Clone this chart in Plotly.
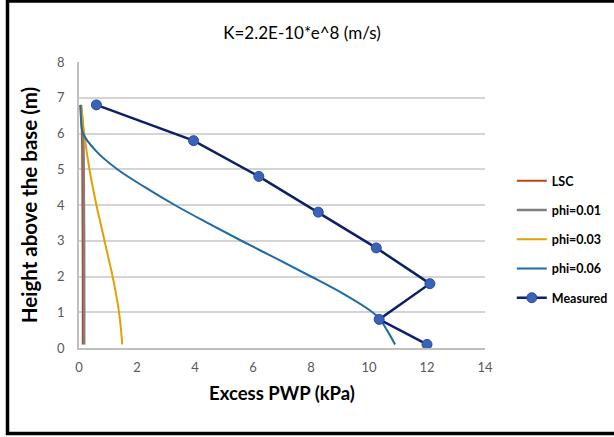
import plotly.graph_objects as go

# ---- data ----
lsc_x = [0.05, 0.10, 0.12, 0.13, 0.13]
lsc_y = [6.8, 6.0, 4.0, 2.0, 0.1]

phi01_x = [0.06, 0.14, 0.17, 0.18, 0.18]
phi01_y = [6.8, 6.0, 4.0, 2.0, 0.1]

phi03_x = [0.08, 0.18, 0.36, 0.60, 0.74, 0.88, 1.02, 1.16, 1.28, 1.38, 1.45, 1.49]
phi03_y = [6.8, 6.0, 5.0, 4.0, 3.5, 3.0, 2.5, 2.0, 1.5, 1.0, 0.5, 0.1]

phi06_x = [0.05, 0.07, 0.14, 0.60, 1.32, 2.27, 3.30, 4.43, 5.60, 6.81, 8.00, 9.15, 10.12, 10.38, 10.62, 10.9]
phi06_y = [6.8, 6.4, 6.0, 5.5, 5.0, 4.5, 4.0, 3.5, 3.0, 2.5, 2.0, 1.5, 1.0, 0.8, 0.5, 0.1]

meas_x = [0.6, 3.95, 6.2, 8.25, 10.25, 12.1, 10.35, 12.0]
meas_y = [6.8, 5.8, 4.8, 3.8, 2.8, 1.8, 0.8, 0.1]

x_ticks = [0, 2, 4, 6, 8, 10, 12, 14]
y_ticks = [0, 1, 2, 3, 4, 5, 6, 7, 8]

title_text = "K=2.2E-10*e^8 (m/s)"
x_title = "Excess PWP (kPa)"
y_title = "Height above the base (m)"

FONT = "Lato"

fig = go.Figure()
fig.add_trace(go.Scatter(x=lsc_x, y=lsc_y, mode="lines", name="LSC",
                         line=dict(color="#C0441A", width=2, shape="spline"), legendgroup="a"))
fig.add_trace(go.Scatter(x=phi01_x, y=phi01_y, mode="lines", name="phi=0.01",
                         line=dict(color="#7F7F7F", width=2.5, shape="spline"), legendgroup="b"))
fig.add_trace(go.Scatter(x=phi03_x, y=phi03_y, mode="lines", name="phi=0.03",
                         line=dict(color="#E5A000", width=2, shape="spline"), legendgroup="c"))
fig.add_trace(go.Scatter(x=phi06_x, y=phi06_y, mode="lines", name="phi=0.06",
                         line=dict(color="#1F6BA5", width=2, shape="spline"), legendgroup="d"))
fig.add_trace(go.Scatter(x=meas_x, y=meas_y, mode="lines+markers", name="Measured",
                         line=dict(color="#0D1F66", width=2.5),
                         marker=dict(size=10, color="#3A62B8", line=dict(color="#2A4A98", width=1)),
                         legendgroup="e"))

fig.update_layout(
    width=614, height=437,
    margin=dict(l=79, r=129, t=62, b=89, autoexpand=False),
    paper_bgcolor="white", plot_bgcolor="white",
    font=dict(family=FONT, size=13, color="#595959"),
    title=dict(text=title_text, x=302/614, xref="container", xanchor="center",
               y=1 - 33/437, yref="container", yanchor="middle",
               font=dict(family=FONT, size=17, color="#000000")),
    showlegend=True,
    legend=dict(x=1.066, xanchor="left", y=0.636, yanchor="top",
                font=dict(family=FONT, size=12.5, color="#000000", weight="bold"),
                tracegroupgap=10, bgcolor="rgba(0,0,0,0)", itemwidth=30),
    xaxis=dict(range=[0, 14], tickvals=x_ticks, showgrid=False, zeroline=False,
               showline=True, linecolor="#BFBFBF", linewidth=1.5,
               ticks="", ticklabelstandoff=7,
               tickfont=dict(family=FONT, size=13, color="#595959"),
               title=dict(text=x_title, standoff=13,
                          font=dict(family=FONT, size=18.5, color="#000000", weight="bold"))),
    yaxis=dict(range=[0, 8], tickvals=y_ticks, showgrid=True, gridcolor="#D4D4D4", gridwidth=1.5,
               zeroline=False, showline=True, linecolor="#BFBFBF", linewidth=1.5,
               ticks="", ticklabelstandoff=10,
               tickfont=dict(family=FONT, size=13, color="#595959"),
               title=dict(text=y_title, standoff=14,
                          font=dict(family=FONT, size=20.5, color="#000000", weight="bold"))),
)

# outer frame of the chart
fig.add_shape(type="rect", xref="paper", yref="paper",
              x0=(7.5 - 79) / 406, x1=(618 - 79) / 406,
              y0=(348 - 433.5) / 286, y1=(348 - 1) / 286,
              line=dict(color="#000000", width=3.5), fillcolor="rgba(0,0,0,0)", layer="above")

fig.write_html("out.html")
